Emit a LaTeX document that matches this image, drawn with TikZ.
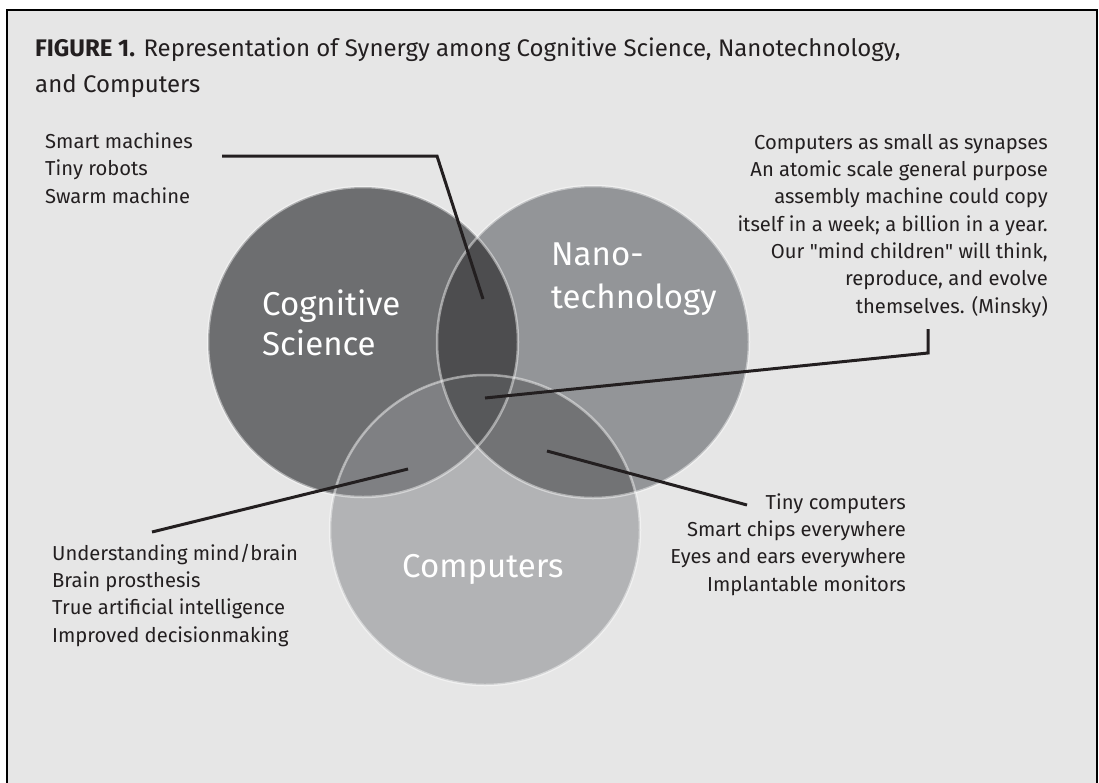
\documentclass[tikz,border=0pt]{standalone}
\usepackage{fontspec}
\setmainfont{Fira Sans}[Ligatures=TeXOff]
\usetikzlibrary{positioning}
\definecolor{panelgray}{RGB}{230,230,230}
\definecolor{cogcolor}{RGB}{109,110,112}
\definecolor{nanocolor}{RGB}{147,149,152}
\definecolor{compcolor}{RGB}{178,179,181}
\definecolor{cognanocolor}{RGB}{77,77,79}
\definecolor{cogcompcolor}{RGB}{127,128,131}
\definecolor{nanocompcolor}{RGB}{114,115,117}
\definecolor{allcolor}{RGB}{87,88,90}
\definecolor{inkcolor}{RGB}{35,31,32}

\begin{document}
\begin{tikzpicture}[
    x=1pt, y=-1pt,
    note/.style={inner sep=0pt, text=inkcolor, font=\fontsize{20.2}{27.3}\selectfont},
    bigname/.style={inner sep=0pt, text=white, align=left, anchor=base west},
    leader/.style={draw=inkcolor, line width=3pt},
    ring/.style={draw=white, draw opacity=0.45, line width=2.5pt}
]
    \useasboundingbox (0,0) rectangle (1099,782);
    \clip (0,0) rectangle (1099,782);
    \fill[white] (0,0) rectangle (1099,782);
    \draw[line width=2.5pt, fill=panelgray] (7,10) rectangle (1097,800);

    % Title (base = last line)
    \node[inner sep=0pt, anchor=base west, align=left, text=inkcolor,
          font=\fontsize{24}{36}\selectfont] (title) at (35,92)
        {\textbf{FIGURE 1.} Representation of Synergy among Cognitive Science, Nanotechnology,\\and Computers};

    % Circle centres
    \coordinate (cog) at (363,342);
    \coordinate (nano) at (593,342);
    \coordinate (comp) at (485,530);

    % Discs
    \fill[cogcolor] (cog) circle[radius=155pt];
    \fill[nanocolor] (nano) circle[radius=156pt];
    \fill[compcolor] (comp) circle[radius=155pt];

    % Overlaps
    \begin{scope}
        \clip (cog) circle[radius=155pt];
        \fill[cognanocolor] (nano) circle[radius=156pt];
        \fill[cogcompcolor] (comp) circle[radius=155pt];
    \end{scope}
    \begin{scope}
        \clip (nano) circle[radius=156pt];
        \fill[nanocompcolor] (comp) circle[radius=155pt];
        \clip (cog) circle[radius=155pt];
        \fill[allcolor] (comp) circle[radius=155pt];
    \end{scope}

    % Rims
    \draw[ring] (cog) circle[radius=155pt];
    \draw[ring] (nano) circle[radius=156pt];
    \draw[ring] (comp) circle[radius=155pt];

    % Circle names
    \node[bigname, font=\fontsize{33}{40}\selectfont] (coglbl) at (262,355) {Cognitive\\Science};
    \node[bigname, font=\fontsize{33}{43}\selectfont] (nanolbl) at (551,308) {Nano-\\technology};
    \node[bigname, font=\fontsize{33}{40}\selectfont] (complbl) at (402,577) {Computers};

    % Notes
    \node[note, anchor=base west, align=left] (cnnote) at (45,203)
        {Smart machines\\Tiny robots\\Swarm machine};
    \node[note, anchor=base east, align=right] (allnote) at (1048,313)
        {Computers as small as synapses\\An atomic scale general purpose\\assembly machine could copy\\itself in a week; a billion in a year.\\Our "mind children" will think,\\reproduce, and evolve\\themselves. (Minsky)};
    \node[note, anchor=base west, align=left] (ccnote) at (52,642)
        {Understanding mind/brain\\Brain prosthesis\\True artificial intelligence\\Improved decisionmaking};
    \node[note, anchor=base east, align=right] (ncnote) at (906,591)
        {Tiny computers\\Smart chips everywhere\\Eyes and ears everywhere\\Implantable monitors};

    % Leaders
    \coordinate (cnstart) at (222,156);
    \coordinate (cnbend) at (437,156);
    \coordinate (cnend) at (483,299);
    \coordinate (allstart) at (928,329);
    \coordinate (allbend) at (928,353);
    \coordinate (allend) at (485,398);
    \coordinate (ccstart) at (152,532);
    \coordinate (ccend) at (408,469);
    \coordinate (ncstart) at (747,505);
    \coordinate (ncend) at (547,451);
    \draw[leader] (cnstart) -- (cnbend) -- (cnend);
    \draw[leader] (allstart) -- (allbend) -- (allend);
    \draw[leader] (ccstart) -- (ccend);
    \draw[leader] (ncstart) -- (ncend);
\end{tikzpicture}
\end{document}
